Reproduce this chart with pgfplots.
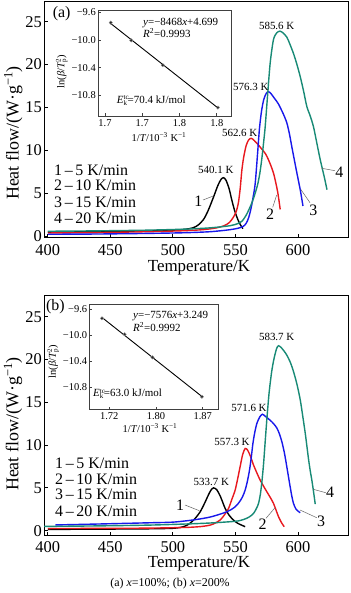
\documentclass[border=0pt]{standalone}
\usepackage{fontspec}
\setmainfont{Liberation Serif}
\usepackage{pgfplots}
\pgfplotsset{compat=1.18}
\definecolor{cteal}{RGB}{24,138,118}
\definecolor{cred}{RGB}{232,24,30}
\definecolor{cblue}{RGB}{24,24,235}
\newcommand{\fs}[1]{\fontsize{#1}{#1}\selectfont}
\newcommand{\Ek}{\textit{E}\makebox[0pt][l]{\raisebox{0.75ex}{\fs{7}tc}}\raisebox{-0.35ex}{\fs{7}k}\hspace{0.6pt}}
\newcommand{\lnlab}{ln(\textit{β}/\textit{T}\makebox[0pt][l]{\raisebox{0.8ex}{\fs{7}2}}\raisebox{-0.35ex}{\fs{7}p})}
\newcommand{\invT}{1/\textit{T}/10\textsuperscript{−3} K\textsuperscript{−1}}
\pgfplotsset{
 mainax/.style={scale only axis, width=304bp, xmin=397, xmax=640, anchor=south west,
  xtick={400,450,500,550,600}, xticklabels={400,450,500,550,600},
  ytick={0,5,10,15,20,25}, yticklabels={0,5,10,15,20,25},
  tick align=inside, tick pos=left,
  major tick length=4bp, tick style={black, line width=0.8bp},
  axis line style={black, line width=0.9bp},
  ticklabel style={font=\fs{16.5}, inner ysep=0.5bp},
  yticklabel style={inner xsep=2bp},
  every axis plot/.append style={line width=1.4bp, smooth, tension=0.45, no marks}},
 inax/.style={scale only axis, anchor=south west, tick align=inside, tick pos=left,
  major tick length=2.5bp, tick style={black!75, line width=0.6bp},
  axis line style={black!75, line width=0.7bp},
  ticklabel style={font=\fs{10.5}},
  axis background/.style={fill=white},
  yticklabel style={inner xsep=2bp}},
}
\begin{document}
\begin{tikzpicture}[x=1bp,y=1bp]
\useasboundingbox (0,0) rectangle (350,593);
\fill[white] (0,0) rectangle (350,593);

% ================= panel (a) =================
\begin{axis}[mainax, at={(44bp,355.3bp)}, height=236.7bp, ymin=-0.2, ymax=27.42,
  xticklabel style={yshift=-6.5bp}]
\addplot[black] coordinates {(400,0.45)(440,0.5)(480,0.6)(500,0.68)(510,0.78)(516,0.95)(520,1.25)(524.4,1.9)(528,2.9)(532.4,4.5)(536,5.9)(538.5,6.6)(540.5,6.8)(542.5,6.5)(545,5.5)(547.1,4.2)(549.5,2.9)(552,1.9)(554,1.3)(556,0.85)};
\addplot[cred] coordinates {(400,0.35)(440,0.4)(480,0.5)(510,0.62)(525,0.75)(535,0.95)(541,1.2)(545,1.55)(548,2.1)(550.5,2.8)(552.3,3.8)(553.8,5.5)(555.1,7.6)(556.5,9.1)(558.5,10.5)(560.5,11.2)(562.6,11.4)(565,11.15)(568.5,10.6)(571,10.15)(574,9.6)(577,8.7)(580.5,7.3)(583.7,5.2)(585.8,3.1)};
\addplot[cblue] coordinates {(400,0.2)(440,0.23)(480,0.3)(510,0.38)(530,0.5)(545,0.72)(552,0.9)(556,1.1)(558.5,1.45)(560.5,2.1)(562.3,3.1)(564,4.4)(565.8,6.1)(567.6,9.4)(569.2,12.5)(570.8,14.5)(572.6,15.9)(574.5,16.6)(576.3,16.85)(578.5,16.6)(581,16.1)(584.4,15.4)(588.4,14.2)(591.1,13.2)(593.2,11.9)(595.1,10.4)(597.2,8.8)(599.2,7.3)(601.8,5.4)(604,3.5)};
\addplot[cteal] coordinates {(400,0.55)(440,0.6)(480,0.68)(510,0.8)(530,0.95)(545.8,1.2)(552,1.45)(555.1,1.7)(558.5,2.4)(561.8,3.4)(564.5,4.4)(567.6,5.9)(569.5,7.3)(571.1,9.0)(572.6,11.0)(573.8,12.75)(575.5,16.0)(577.8,20.2)(580.4,22.9)(583,23.7)(585.6,23.9)(588,23.7)(591.1,23.2)(593.5,22.4)(596.4,21.3)(599,20.1)(601.8,18.6)(604.5,16.9)(607.1,15.1)(609.8,14.0)(612.4,12.75)(615,10.9)(617.8,8.9)(621,6.9)(623.2,5.4)};
\end{axis}

\begin{axis}[inax, at={(98bp,477bp)}, width=133.7bp, height=106bp,
  xmin=1.6906, xmax=1.870, ymin=-11.095, ymax=-9.567,
  xtick={1.70,1.75,1.80,1.85}, xticklabels={1.7,1.7,1.8,1.8},
  ytick={-10.8,-10.4,-10.0,-9.6}, yticklabels={−10.8,−10.4,−10.0,−9.6}]
\addplot[black, line width=0.9bp] coordinates {(1.7077,-9.762)(1.8515,-10.979)};
\addplot[only marks, mark=*, mark size=1.7bp, mark options={fill=black!85, draw=black!40}] coordinates {(1.7077,-9.7497)(1.7352,-10.005)(1.7775,-10.362)(1.8515,-10.974)};
\end{axis}

% ================= panel (b) =================
\begin{axis}[mainax, at={(44bp,57.3bp)}, height=240.7bp, ymin=-0.584, ymax=27.53,
  xticklabel style={yshift=-5bp}]
\addplot[black] coordinates {(400,0.15)(440,0.18)(480,0.22)(500,0.28)(508,0.45)(512,0.7)(515.2,1.05)(518.5,1.55)(521.8,2.2)(525,3.1)(528.5,4.2)(530.5,4.75)(532.5,5.0)(535,4.8)(538,4.0)(541.8,2.6)(545,1.8)(548.4,1.25)(552,0.85)(557.8,0.47)};
\addplot[cred] coordinates {(400,0.25)(440,0.27)(480,0.3)(510,0.38)(522,0.48)(529.8,0.65)(534,0.9)(537.8,1.25)(541,1.8)(544.5,2.6)(547,3.6)(549.8,4.75)(552,6.2)(553.8,7.5)(555.8,8.9)(557.8,9.6)(559.8,9.4)(562,8.7)(564.4,7.7)(567,6.8)(569.8,5.9)(572.5,5.2)(575.1,4.55)(577.8,3.9)(580.4,3.2)(582.5,2.4)(584.4,1.65)(586.8,0.95)(589,0.47)};
\addplot[cblue] coordinates {(406,0.67)(440,0.78)(480,0.92)(500,1.0)(516,1.25)(530,1.6)(543,2.2)(549,2.7)(552.4,3.2)(555.5,3.9)(557.8,4.75)(559.6,5.8)(561.3,7.1)(562.7,8.6)(564,10.2)(565.5,11.5)(567.2,12.55)(569.5,13.3)(571.6,13.6)(574,13.35)(577.8,12.9)(580.5,12.5)(583.1,12.0)(585.2,11.3)(587.1,10.4)(589,9.2)(590.6,7.9)(592.3,6.4)(593.8,5.1)(595,4.1)(596.4,3.2)(598.5,2.5)(601.8,2.1)};
\addplot[cteal] coordinates {(397,0.5)(440,0.56)(480,0.65)(510,0.78)(530,0.9)(550,1.1)(556.4,1.3)(561,1.6)(564.4,2.0)(566.8,2.6)(568.5,3.2)(570,4.3)(571.3,5.9)(572.5,7.8)(573.5,9.8)(574.5,11.8)(575.5,13.7)(577,16.2)(579,18.6)(581,20.2)(583,21.3)(584.5,21.6)(586.5,21.4)(588.8,21.0)(591.1,20.5)(593.8,19.7)(596.4,18.6)(599.2,17.1)(601.8,15.3)(603.8,13.4)(605.8,11.4)(607.2,9.8)(608.5,8.3)(609.8,7.0)(611.1,5.9)(612.5,4.5)(613.8,3.1)};
\end{axis}

\begin{axis}[inax, at={(89.3bp,183.7bp)}, width=129bp, height=105.3bp,
  xmin=1.6929, xmax=1.900, ymin=-11.143, ymax=-9.523,
  xtick={1.725,1.80,1.875}, xticklabels={1.72,1.80,1.87},
  ytick={-10.8,-10.4,-10.0,-9.6}, yticklabels={−10.8,−10.4,−10.0,−9.6}]
\addplot[black, line width=0.9bp] coordinates {(1.7132,-9.730)(1.8737,-10.946)};
\addplot[only marks, mark=*, mark size=1.7bp, mark options={fill=black!85, draw=black!40}] coordinates {(1.7132,-9.743)(1.7495,-9.989)(1.7944,-10.344)(1.8737,-10.950)};
\end{axis}

% ================= annotations (a) =================
\node[rotate=90, font=\fs{18}] at (13.3,460) {Heat flow/(W·g\textsuperscript{−1})};
\node[font=\fs{17}, inner sep=0pt] at (199,325) {Temperature/K};
\node[font=\fs{16}] at (61.7,579) {(a)};
\node[rotate=90, font=\fs{10.5}] at (61.7,521) {\lnlab};
\node[font=\fs{10.5}] at (159,456.3) {\invT};
\node[font=\fs{11}, anchor=west, inner sep=0pt] at (143,570.3) {\textit{y}=−8468\textit{x}+4.699};
\node[font=\fs{11}, anchor=west, inner sep=0pt] at (143,559.7) {\textit{R}\textsuperscript{2}=0.9993};
\node[font=\fs{11}, anchor=west, inner sep=0pt] at (116.7,492.3) {\Ek=70.4 kJ/mol};
\begin{scope}[every node/.style={font=\fs{16}, anchor=base west, inner sep=0pt}]
\node at (54,593-175.5) {1\,–\,5 K/min};
\node at (54,593-190.8) {2\,–\,10 K/min};
\node at (54,593-207.2) {3\,–\,15 K/min};
\node at (54,593-223.2) {4\,–\,20 K/min};
\end{scope}
\begin{scope}[every node/.style={font=\fs{11}, anchor=base, inner sep=0pt}]
\node at (276.7,593-29.5) {585.6 K};
\node at (250.8,593-90.5) {576.3 K};
\node at (239.7,593-136.1) {562.6 K};
\node at (215.8,593-173.1) {540.1 K};
\end{scope}
\begin{scope}[every node/.style={font=\fs{16}, inner sep=0pt}]
\node at (198.3,593-201.7) {1};
\node at (270,593-214.3) {2};
\node at (313.3,593-210) {3};
\node at (339.3,593-172.3) {4};
\end{scope}
\draw[black!60, line width=0.5bp] (203,593-200) -- (213.3,593-196);
\draw[black!60, line width=0.5bp] (272.7,593-207.3) -- (276.7,593-195);
\draw[black!60, line width=0.5bp] (310,593-202.7) -- (300.7,593-189.3);
\draw[black!60, line width=0.5bp] (335,593-170.7) -- (321.7,593-168.3);

% ================= annotations (b) =================
\node[rotate=90, font=\fs{18}] at (13,169) {Heat flow/(W·g\textsuperscript{−1})};
\node[font=\fs{17}, inner sep=0pt] at (199,29) {Temperature/K};
\node[font=\fs{16}] at (55.3,286) {(b)};
\node[rotate=90, font=\fs{10.5}] at (53.3,231.3) {\lnlab};
\node[font=\fs{10.5}] at (150,165) {\invT};
\node[font=\fs{11}, anchor=west, inner sep=0pt] at (133,277) {\textit{y}=−7576\textit{x}+3.249};
\node[font=\fs{11}, anchor=west, inner sep=0pt] at (133,266.3) {\textit{R}\textsuperscript{2}=0.9992};
\node[font=\fs{11}, anchor=west, inner sep=0pt] at (93,199) {\Ek=63.0 kJ/mol};
\begin{scope}[every node/.style={font=\fs{16}, anchor=base west, inner sep=0pt}]
\node at (55,593-468.8) {1\,–\,5 K/min};
\node at (55,593-484.5) {2\,–\,10 K/min};
\node at (55,593-499.5) {3\,–\,15 K/min};
\node at (55,593-516.2) {4\,–\,20 K/min};
\end{scope}
\begin{scope}[every node/.style={font=\fs{11}, anchor=base, inner sep=0pt}]
\node at (276.7,593-341) {583.7 K};
\node at (249,593-411.1) {571.6 K};
\node at (232,593-445.5) {557.3 K};
\node at (211.3,593-485.5) {533.7 K};
\end{scope}
\begin{scope}[every node/.style={font=\fs{16}, inner sep=0pt}]
\node at (180,593-505) {1};
\node at (262.7,593-524) {2};
\node at (321,593-521.7) {3};
\node at (330,593-492.7) {4};
\end{scope}
\draw[black!60, line width=0.5bp] (185,593-505) -- (199.3,593-510.7);
\draw[black!60, line width=0.5bp] (266,593-518.3) -- (275,593-507.7);
\draw[black!60, line width=0.5bp] (316.7,593-517.7) -- (300,593-510);
\draw[black!60, line width=0.5bp] (325.7,593-492.7) -- (313.3,593-489.3);

\node[font=\fs{12}] at (170,9.7) {(a) \textit{x}=100\%; (b) \textit{x}=200\%};
\end{tikzpicture}
\end{document}
